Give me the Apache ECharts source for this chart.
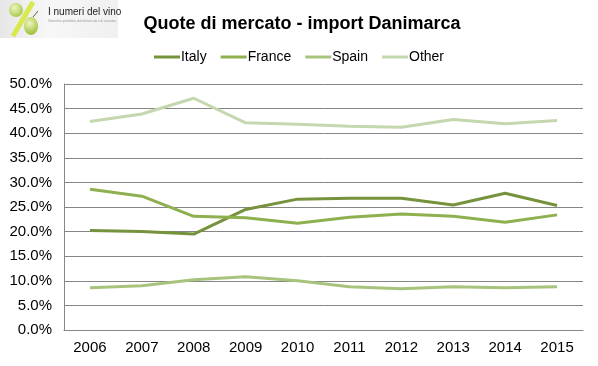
<!DOCTYPE html>
<html><head><meta charset="utf-8">
<script src="https://cdn.jsdelivr.net/npm/echarts@6/dist/echarts.min.js"></script>
<style>html,body{margin:0;padding:0;background:#fff}#c{width:598px;height:366px}</style>
</head><body><div id="c"></div>
<script>
const years = ['2006','2007','2008','2009','2010','2011','2012','2013','2014','2015'];
const italy  = [20.2, 20.0, 19.5, 24.5, 26.6, 26.8, 26.8, 25.4, 27.8, 25.3];
const france = [28.6, 27.2, 23.1, 22.8, 21.7, 22.9, 23.6, 23.1, 21.9, 23.4];
const spain  = [8.6, 9.0, 10.2, 10.8, 10.0, 8.8, 8.4, 8.8, 8.6, 8.8];
const other  = [42.4, 43.9, 47.1, 42.1, 41.8, 41.4, 41.2, 42.8, 41.9, 42.6];
const names = ['Italy','France','Spain','Other'];
const colors = ['#76923C','#8EB04E','#A8C47C','#C4D7AE'];
const sans = '"Liberation Sans", Arial, sans-serif';
const chart = echarts.init(document.getElementById('c'));
const mk = (n, d, i) => ({name: n, type: 'line', data: d, symbol: 'none', smooth: false,
  lineStyle: {width: 3, color: colors[i]}, itemStyle: {color: colors[i]}});
const grape = new echarts.graphic.RadialGradient(0.4,0.35,0.7,[{offset:0,color:'#eef6c0'},{offset:1,color:'#a6c545'}]);
chart.setOption({
  animation: false,
  title: {text: 'Quote di mercato - import Danimarca', left: 297, top: 10, textAlign: 'center',
    textStyle: {fontFamily: sans, fontSize: 18, fontWeight: 'bold', color: '#000'}},
  legend: {top: 45, left: 'center', itemWidth: 26, itemHeight: 3, itemGap: 14,
    icon: 'rect', textStyle: {fontFamily: sans, fontSize: 14, color: '#000', padding: [0,0,0,-4]},
    data: names},
  grid: {left: 64, right: 15, top: 84, bottom: 36},
  xAxis: {type: 'category', data: years, boundaryGap: true,
    axisLine: {lineStyle: {color: '#868686', width: 1}}, axisTick: {show: false},
    axisLabel: {fontFamily: sans, fontSize: 15, color: '#000', margin: 10}},
  yAxis: {type: 'value', min: 0, max: 50, interval: 5,
    axisLine: {show: true, lineStyle: {color: '#868686'}}, axisTick: {show: false},
    splitLine: {lineStyle: {color: '#868686', width: 1}},
    axisLabel: {formatter: v => v.toFixed(1) + '%', fontFamily: sans, fontSize: 15, color: '#000', margin: 12}},
  series: [mk('Italy', italy, 0), mk('France', france, 1), mk('Spain', spain, 2), mk('Other', other, 3)],
  graphic: [
    {type: 'rect', shape: {x: 0, y: 0, width: 118, height: 38},
      style: {fill: new echarts.graphic.LinearGradient(0,0,1,0,[{offset:0,color:'#e6e6e6'},{offset:0.4,color:'#f7f7f7'},{offset:1,color:'#f0f0f0'}])}},
    {type: 'line', shape: {x1: 33, y1: 2, x2: 13, y2: 36}, style: {stroke: '#d9e84a', lineWidth: 5}},
    {type: 'circle', shape: {cx: 16, cy: 10, r: 7}, style: {fill: grape}},
    {type: 'ellipse', shape: {cx: 31, cy: 26, rx: 7, ry: 9}, style: {fill: grape}},
    {type: 'line', shape: {x1: 33, y1: 17, x2: 38, y2: 11}, style: {stroke: '#6b5a3a', lineWidth: 1}},
    {type: 'text', x: 48, y: 7, style: {text: 'I numeri del vino', fontFamily: sans, fontSize: 10, fill: '#222'}},
    {type: 'text', x: 48, y: 20, style: {text: 'Statistiche produttive, dati di mercato e di consumo', fontFamily: sans, fontSize: 3, fill: '#999'}}
  ]
});
</script></body></html>
